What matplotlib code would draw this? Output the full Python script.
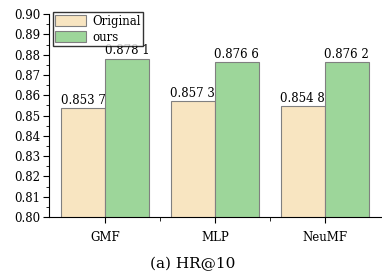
import matplotlib
matplotlib.use("Agg")
import matplotlib.pyplot as plt
import numpy as np

categories = ["GMF", "MLP", "NeuMF"]
original = [0.8537, 0.8573, 0.8548]
ours = [0.8781, 0.8766, 0.8762]
labels_original = ["0.853 7", "0.857 3", "0.854 8"]
labels_ours = ["0.878 1", "0.876 6", "0.876 2"]
yticks = [0.80, 0.81, 0.82, 0.83, 0.84, 0.85, 0.86, 0.87, 0.88, 0.89, 0.90]

plt.rcParams['font.family'] = ['DejaVu Serif']
fig = plt.figure(figsize=(3.82, 2.76), dpi=100)
ax = fig.add_axes([0.128, 0.214, 0.869, 0.735])

x = np.arange(len(categories))
w = 0.4
b1 = ax.bar(x - w/2, original, w, color="#F8E5C1", edgecolor="#808080", linewidth=0.8, label="Original")
b2 = ax.bar(x + w/2, ours, w, color="#9DD69A", edgecolor="#808080", linewidth=0.8, label="ours")

for rect, lab in zip(b1, labels_original):
    ax.text(rect.get_x() + rect.get_width()/2, rect.get_height() + 0.0005, lab,
            ha="center", va="bottom", fontsize=8.5)
for rect, lab in zip(b2, labels_ours):
    ax.text(rect.get_x() + rect.get_width()/2, rect.get_height() + 0.0005, lab,
            ha="center", va="bottom", fontsize=8.5)

ax.set_ylim(0.80, 0.90)
ax.set_xlim(-0.51, 2.51)
ax.set_yticks(yticks)
ax.set_yticklabels([f"{v:.2f}" for v in yticks], fontsize=8.5)
ax.set_yticks(np.arange(0.805, 0.9, 0.01), minor=True)
ax.set_xticks(x)
ax.set_xticklabels(categories, fontsize=8.5)
ax.set_xticks([0.5, 1.5], minor=True)
ax.tick_params(axis="x", which="major", direction="out", length=4, pad=6)
ax.tick_params(axis="x", which="minor", direction="out", length=3)
ax.tick_params(axis="y", which="major", direction="out", length=4, pad=2)
ax.tick_params(axis="y", which="minor", direction="out", length=2)
ax.spines["top"].set_visible(False)
ax.spines["right"].set_visible(False)

leg = ax.legend(loc="upper left", bbox_to_anchor=(0.005, 1.02), fontsize=8.5, frameon=True,
                fancybox=False, edgecolor="black", borderpad=0.2, handlelength=2.6,
                handleheight=1.0, labelspacing=0.25, handletextpad=0.5, borderaxespad=0.2)
leg.get_frame().set_linewidth(1.0)

fig.text(0.505, 0.045, "(a) HR@10", ha="center", va="center", fontsize=11)

fig.savefig("out.png", dpi=100)
